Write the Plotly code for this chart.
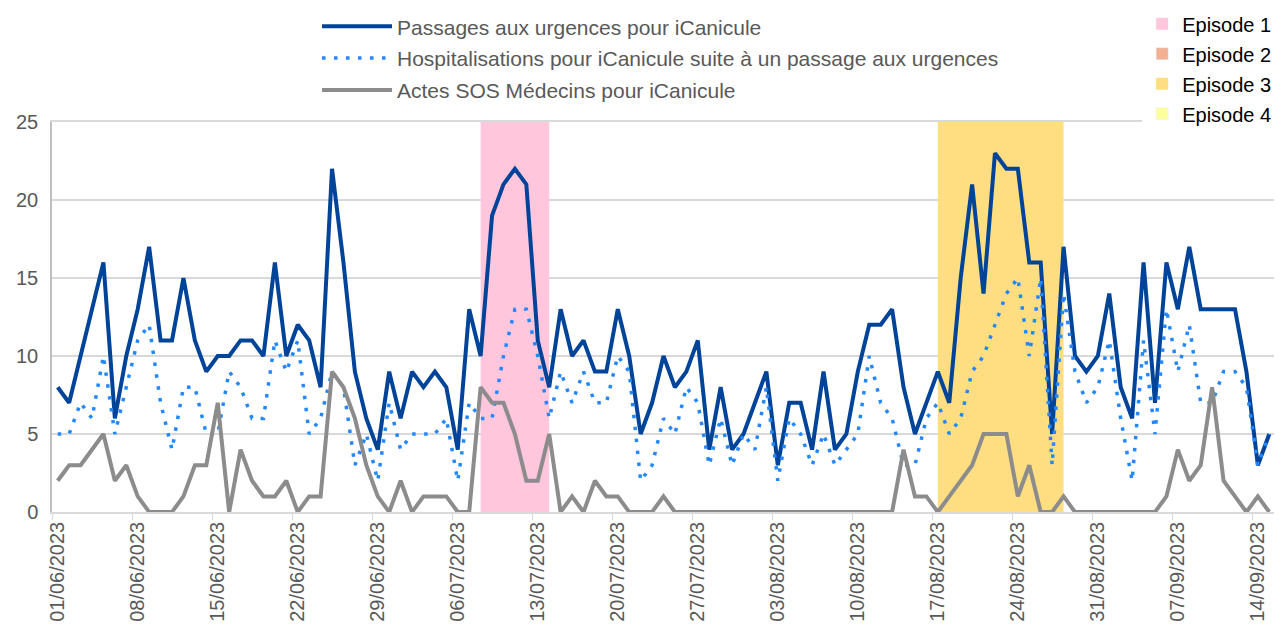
import plotly.graph_objects as go
import pandas as pd

# daily series, 01/06/2023 -> 15/09/2023
start_day = "2023-06-01"
n_days = 107

passages = [8, 7, 10, 13, 16, 6, 10, 13, 17, 11, 11, 15, 11, 9, 10, 10, 11, 11,
            10, 16, 10, 12, 11, 8, 22, 16, 9, 6, 4, 9, 6, 9, 8, 9, 8, 4, 13,
            10, 19, 21, 22, 21, 11, 8, 13, 10, 11, 9, 9, 13, 10, 5, 7, 10, 8,
            9, 11, 4, 8, 4, 5, 7, 9, 3, 7, 7, 4, 9, 4, 5, 9, 12, 12, 13,
            8, 5, 7, 9, 7, 15, 21, 14, 23, 22, 22, 16, 16, 5, 17, 10, 9, 10,
            14, 8, 6, 16, 7, 16, 13, 17, 13, 13, 13, 13, 9, 3, 5]

hospit = [5, 5, 7, 6, 10, 5, 8, 11, 12, 7, 4, 8, 8, 5, 5, 9, 8, 6,
          6, 11, 9, 11, 5, 6, 9, 8, 3, 5, 2, 7, 4, 5, 5, 5, 6, 2, 7,
          6, 6, 10, 13, 13, 10, 6, 9, 7, 9, 7, 7, 10, 9, 2, 3, 6, 5,
          8, 7, 3, 6, 3, 5, 4, 8, 2, 6, 5, 3, 5, 3, 4, 5, 10, 7, 6,
          3, 3, 6, 7, 5, 6, 9, 10, 12, 14, 15, 10, 15, 3, 14, 9, 7, 8,
          11, 6, 2, 11, 5, 13, 9, 12, 7, 7, 9, 9, 8, 3, 5]

sos = [2, 3, 3, 4, 5, 2, 3, 1, 0, 0, 0, 1, 3, 3, 7, 0, 4, 2,
       1, 1, 2, 0, 1, 1, 9, 8, 6, 3, 1, 0, 2, 0, 1, 1, 1, 0, 0,
       8, 7, 7, 5, 2, 2, 5, 0, 1, 0, 2, 1, 1, 0, 0, 0, 1, 0,
       0, 0, 0, 0, 0, 0, 0, 0, 0, 0, 0, 0, 0, 0, 0, 0, 0, 0, 0,
       4, 1, 1, 0, 1, 2, 3, 5, 5, 5, 1, 3, 0, 0, 1, 0, 0, 0,
       0, 0, 0, 0, 0, 1, 4, 2, 3, 8, 2, 1, 0, 1, 0]

episode_names = ["Episode 1", "Episode 2", "Episode 3", "Episode 4"]
episode_start = ["2023-07-08", None, "2023-08-17", None]
episode_end = ["2023-07-14", None, "2023-08-28", None]
episode_colors = ["#FFC6DC", "#F2AF92", "#FFDE82", "#FFFF99"]

dates = pd.date_range(start_day, periods=n_days)

fig = go.Figure()

for name, s, e, col in zip(episode_names, episode_start, episode_end, episode_colors):
    if s is None:
        fig.add_trace(go.Bar(x=[None], y=[None], name=name, marker_color=col,
                             legend="legend2", legendgroup=name))
        continue
    w = (pd.Timestamp(e) - pd.Timestamp(s)).total_seconds() * 1000
    fig.add_trace(go.Bar(x=[s], y=[25], base=0, width=[w], offset=0,
                         name=name, marker_color=col, marker_line_width=0,
                         legend="legend2", legendgroup=name, hoverinfo="skip"))

fig.add_trace(go.Scatter(x=dates, y=passages, mode="lines",
                         name="Passages aux urgences pour iCanicule",
                         line=dict(color="#00449A", width=4), legendgroup="a"))
fig.add_trace(go.Scatter(x=dates, y=hospit, mode="lines",
                         name="Hospitalisations pour iCanicule suite à un passage aux urgences",
                         line=dict(color="#2388FF", width=3.5, dash="3.5px,8.5px"),
                         legendgroup="b"))
fig.add_trace(go.Scatter(x=dates, y=sos, mode="lines",
                         name="Actes SOS Médecins pour iCanicule",
                         line=dict(color="#8C8C8C", width=4), legendgroup="c"))

fig.update_xaxes(
    type="date",
    range=["2023-05-31 12:00", "2023-09-15 12:00"],
    tick0=start_day, dtick=7 * 86400000,
    tickformat="%d/%m/%Y", tickangle=-90,
    ticks="",
    minor=dict(ticks="outside", tick0="2023-05-31 12:00", dtick=7 * 86400000,
               ticklen=6, tickcolor="#D9D9D9", showgrid=False),
    showline=True, linecolor="#D9D9D9", linewidth=1.5, mirror=True,
    showgrid=False, automargin=False,
    tickfont=dict(size=20, color="#595959"),
)
fig.update_yaxes(
    range=[0, 25], dtick=5,
    showgrid=True, gridcolor="#D9D9D9", gridwidth=1.5,
    showline=True, linecolor="#BFBFBF", linewidth=1.5, mirror=True,
    zeroline=False, automargin=False, ticklabelstandoff=8,
    tickfont=dict(size=20, color="#595959"),
)

# page body has an 8px margin, so everything sits 8px right/down in the window
fig.update_layout(
    width=1274, height=620,
    margin=dict(l=44, r=7, t=114, b=116, autoexpand=False),
    plot_bgcolor="white", paper_bgcolor="white",
    font=dict(family="Liberation Sans, Arial, sans-serif"),
    barmode="overlay",
    showlegend=True,
    legend=dict(x=0.2167, y=1.297, xanchor="left", yanchor="top", itemwidth=70,
                font=dict(size=21, color="#595959"), tracegroupgap=1.5,
                bgcolor="rgba(0,0,0,0)"),
    legend2=dict(x=0.8914, y=1.302, xanchor="left", yanchor="top",
                 font=dict(size=20, color="#000000"), tracegroupgap=1,
                 bgcolor="white"),
)

fig.write_html("out.html")
